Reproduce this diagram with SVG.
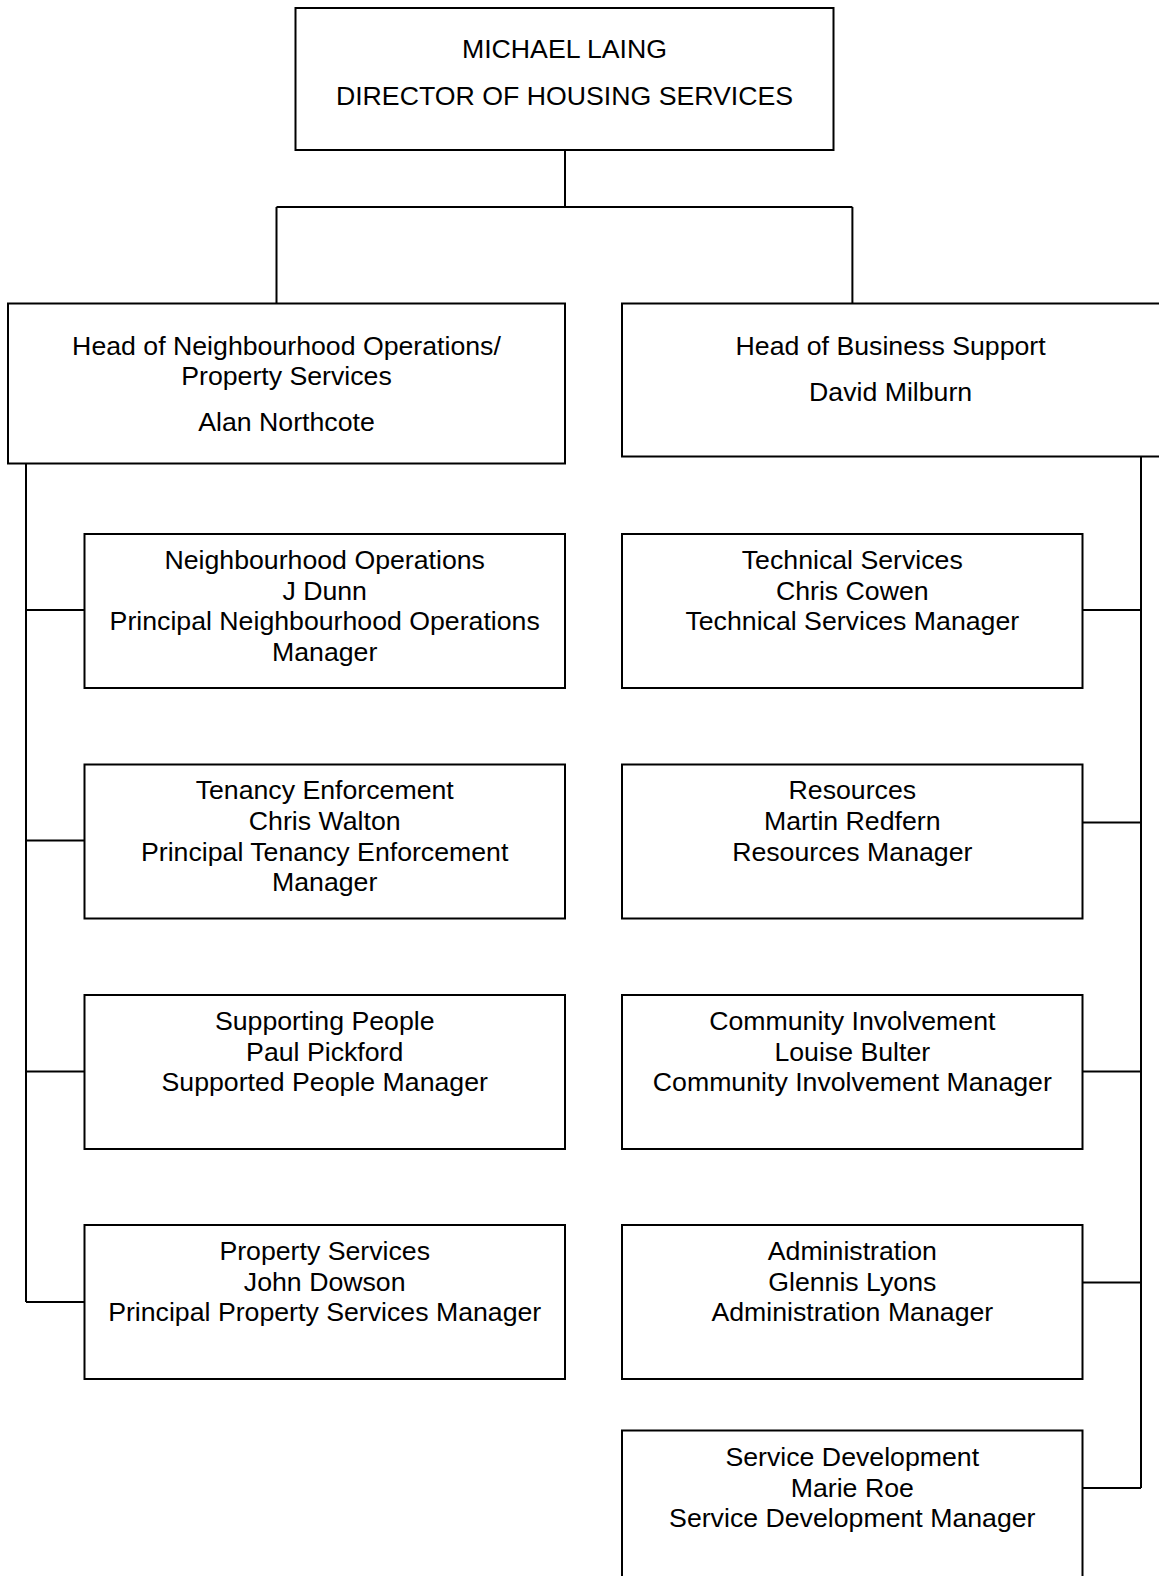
<svg xmlns="http://www.w3.org/2000/svg" width="1159" height="1576" viewBox="0 0 1159 1576">
<style>
.box{fill:#fff;stroke:#000;stroke-width:2}
.ln{fill:none;stroke:#000;stroke-width:2}
text{font-family:"Liberation Sans",Arial,sans-serif;font-size:26.7px;fill:#000;text-anchor:middle}
</style>
<rect width="1159" height="1576" fill="#fff"/>
<g id="connectors">
<path class="ln" d="M565 150V207M276.5 207H852.4M276.5 207V303.5M852.4 207V303.5"/>
<path class="ln" d="M26 463V1302M26 610H84.5M26 840.5H84.5M26 1071.5H84.5M26 1302H84.5"/>
<path class="ln" d="M1141 456V1488M1082.5 610H1141M1082.5 822.5H1141M1082.5 1071.5H1141M1082.5 1282.5H1141M1082.5 1488H1141"/>
</g>
<g id="director">
<rect class="box" x="295.5" y="8" width="538" height="142"/>
<text x="564.5" y="58">MICHAEL LAING</text>
<text x="564.5" y="105.2">DIRECTOR OF HOUSING SERVICES</text>
</g>
<g id="head-neighbourhood">
<rect class="box" x="8" y="303.5" width="557" height="160"/>
<text x="286.5" y="354.5">Head of Neighbourhood Operations/</text>
<text x="286.5" y="384.7">Property Services</text>
<text x="286.5" y="430.7">Alan Northcote</text>
</g>
<g id="head-business">
<rect class="box" x="622" y="303.5" width="545" height="153"/>
<text x="890.6" y="354.5">Head of Business Support</text>
<text x="890.6" y="400.7">David Milburn</text>
</g>
<g id="neighbourhood-operations">
<rect class="box" x="84.5" y="534" width="480.5" height="154"/>
<text x="324.7" y="568.8">Neighbourhood Operations</text>
<text x="324.7" y="599.5">J Dunn</text>
<text x="324.7" y="630.2">Principal Neighbourhood Operations</text>
<text x="324.7" y="660.9">Manager</text>
</g>
<g id="tenancy-enforcement">
<rect class="box" x="84.5" y="764.5" width="480.5" height="154"/>
<text x="324.7" y="799.3">Tenancy Enforcement</text>
<text x="324.7" y="830">Chris Walton</text>
<text x="324.7" y="860.7">Principal Tenancy Enforcement</text>
<text x="324.7" y="891.4">Manager</text>
</g>
<g id="supporting-people">
<rect class="box" x="84.5" y="995" width="480.5" height="154"/>
<text x="324.7" y="1029.8">Supporting People</text>
<text x="324.7" y="1060.5">Paul Pickford</text>
<text x="324.7" y="1091.2">Supported People Manager</text>
</g>
<g id="property-services">
<rect class="box" x="84.5" y="1225" width="480.5" height="154"/>
<text x="324.7" y="1259.8">Property Services</text>
<text x="324.7" y="1290.5">John Dowson</text>
<text x="324.7" y="1321.2">Principal Property Services Manager</text>
</g>
<g id="technical-services">
<rect class="box" x="622" y="534" width="460.5" height="154"/>
<text x="852.3" y="568.8">Technical Services</text>
<text x="852.3" y="599.5">Chris Cowen</text>
<text x="852.3" y="630.2">Technical Services Manager</text>
</g>
<g id="resources">
<rect class="box" x="622" y="764.5" width="460.5" height="154"/>
<text x="852.3" y="799.3">Resources</text>
<text x="852.3" y="830">Martin Redfern</text>
<text x="852.3" y="860.7">Resources Manager</text>
</g>
<g id="community-involvement">
<rect class="box" x="622" y="995" width="460.5" height="154"/>
<text x="852.3" y="1029.8">Community Involvement</text>
<text x="852.3" y="1060.5">Louise Bulter</text>
<text x="852.3" y="1091.2">Community Involvement Manager</text>
</g>
<g id="administration">
<rect class="box" x="622" y="1225" width="460.5" height="154"/>
<text x="852.3" y="1259.8">Administration</text>
<text x="852.3" y="1290.5">Glennis Lyons</text>
<text x="852.3" y="1321.2">Administration Manager</text>
</g>
<g id="service-development">
<rect class="box" x="622" y="1430.5" width="460.5" height="160"/>
<text x="852.3" y="1465.8">Service Development</text>
<text x="852.3" y="1496.5">Marie Roe</text>
<text x="852.3" y="1527.2">Service Development Manager</text>
</g>
</svg>
